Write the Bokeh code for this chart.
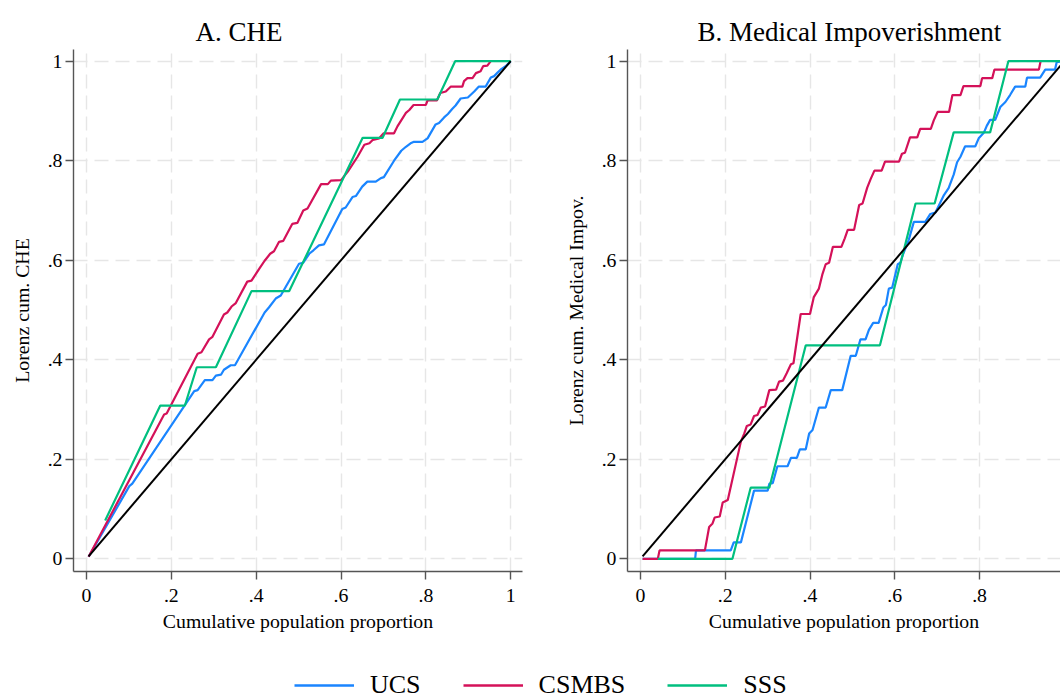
from bokeh.plotting import figure
from bokeh.models import FixedTicker, Range1d, Title, Legend, LegendItem
from bokeh.layouts import column, row
from bokeh.embed import file_html
from bokeh.resources import INLINE

# ---------------- data ----------------
TICKS = [0, 0.2, 0.4, 0.6, 0.8, 1]
TICK_LABELS = ["0", ".2", ".4", ".6", ".8", "1"]
SERIES = ["UCS", "CSMBS", "SSS"]

EQ_X = [0.005, 1.0]
EQ_Y = [0.005, 1.0]

# Panel A: CHE
ucs_a_x = [0.005, 0.101, 0.108, 0.232, 0.254, 0.262, 0.279, 0.297, 0.305, 0.317, 0.324, 0.340, 0.350,
           0.420, 0.430, 0.446, 0.458, 0.501, 0.511, 0.525, 0.535, 0.548, 0.560, 0.603, 0.611, 0.627,
           0.635, 0.650, 0.662, 0.682, 0.694, 0.701, 0.725, 0.742, 0.753, 0.764, 0.772, 0.792, 0.804,
           0.823, 0.831, 0.843, 0.852, 0.862, 0.870, 0.882, 0.899, 0.914, 0.925, 0.941, 0.953, 0.961,
           0.969, 0.976, 0.988, 1.000]
ucs_a_y = [0.004, 0.146, 0.151, 0.309, 0.337, 0.339, 0.359, 0.359, 0.368, 0.370, 0.380, 0.389, 0.389,
           0.495, 0.505, 0.523, 0.529, 0.593, 0.595, 0.613, 0.620, 0.630, 0.632, 0.703, 0.706, 0.727,
           0.729, 0.748, 0.758, 0.758, 0.765, 0.767, 0.800, 0.820, 0.828, 0.835, 0.838, 0.838, 0.845,
           0.873, 0.876, 0.887, 0.894, 0.904, 0.911, 0.925, 0.927, 0.939, 0.949, 0.949, 0.967, 0.970,
           0.977, 0.983, 0.990, 1.000]

csmbs_a_x = [0.005, 0.183, 0.189, 0.262, 0.271, 0.289, 0.297, 0.324, 0.332, 0.342, 0.352, 0.379, 0.389,
             0.409, 0.420, 0.433, 0.442, 0.454, 0.464, 0.485, 0.497, 0.511, 0.521, 0.553, 0.569, 0.576,
             0.600, 0.616, 0.639, 0.655, 0.667, 0.675, 0.690, 0.700, 0.725, 0.733, 0.753, 0.761, 0.771,
             0.800, 0.804, 0.826, 0.834, 0.847, 0.859, 0.886, 0.890, 0.898, 0.910, 0.918, 0.929, 0.935,
             0.945, 0.953]
csmbs_a_y = [0.004, 0.290, 0.292, 0.412, 0.415, 0.441, 0.446, 0.491, 0.495, 0.507, 0.514, 0.557, 0.559,
             0.585, 0.599, 0.613, 0.618, 0.637, 0.639, 0.673, 0.675, 0.700, 0.704, 0.753, 0.753, 0.760,
             0.761, 0.778, 0.808, 0.832, 0.835, 0.842, 0.845, 0.855, 0.855, 0.869, 0.896, 0.902, 0.912,
             0.912, 0.921, 0.921, 0.936, 0.939, 0.949, 0.949, 0.960, 0.966, 0.966, 0.976, 0.980, 0.990,
             0.991, 1.000]

sss_a_x = [0.044, 0.174, 0.232, 0.260, 0.305, 0.389, 0.478, 0.651, 0.698, 0.739, 0.827, 0.869, 1.000]
sss_a_y = [0.077, 0.308, 0.308, 0.385, 0.385, 0.538, 0.538, 0.846, 0.846, 0.923, 0.923, 1.000, 1.000]

# Panel B: Medical impoverishment
ucs_b_x = [0.005, 0.129, 0.131, 0.213, 0.220, 0.237, 0.268, 0.300, 0.304, 0.312, 0.323, 0.347, 0.355,
           0.369, 0.376, 0.390, 0.398, 0.406, 0.421, 0.437, 0.449, 0.476, 0.496, 0.508, 0.519, 0.531,
           0.539, 0.549, 0.562, 0.573, 0.579, 0.586, 0.594, 0.607, 0.613, 0.620, 0.633, 0.645, 0.672,
           0.684, 0.696, 0.708, 0.716, 0.727, 0.739, 0.747, 0.755, 0.766, 0.790, 0.798, 0.810, 0.817,
           0.825, 0.837, 0.849, 0.861, 0.872, 0.884, 0.908, 0.912, 0.943, 0.955, 0.978, 0.982, 1.000]
ucs_b_y = [0.000, 0.000, 0.017, 0.017, 0.033, 0.033, 0.137, 0.137, 0.151, 0.152, 0.186, 0.186, 0.203,
           0.203, 0.220, 0.220, 0.252, 0.259, 0.304, 0.304, 0.339, 0.339, 0.408, 0.408, 0.441, 0.441,
           0.460, 0.474, 0.474, 0.505, 0.510, 0.543, 0.545, 0.592, 0.595, 0.613, 0.641, 0.677, 0.677,
           0.693, 0.696, 0.717, 0.731, 0.745, 0.772, 0.797, 0.808, 0.829, 0.829, 0.845, 0.856, 0.870,
           0.882, 0.882, 0.908, 0.918, 0.932, 0.949, 0.949, 0.967, 0.967, 0.983, 0.983, 0.998, 1.000]

csmbs_b_x = [0.005, 0.041, 0.045, 0.152, 0.162, 0.170, 0.175, 0.187, 0.194, 0.206, 0.237, 0.245, 0.251,
             0.260, 0.268, 0.276, 0.284, 0.294, 0.304, 0.320, 0.327, 0.336, 0.345, 0.355, 0.361, 0.378,
             0.400, 0.409, 0.421, 0.429, 0.437, 0.445, 0.454, 0.474, 0.482, 0.489, 0.504, 0.516, 0.524,
             0.535, 0.543, 0.552, 0.569, 0.577, 0.610, 0.617, 0.624, 0.636, 0.653, 0.660, 0.685, 0.692,
             0.701, 0.728, 0.736, 0.755, 0.762, 0.802, 0.806, 0.830, 0.835, 0.940, 0.944]
csmbs_b_y = [0.000, 0.000, 0.017, 0.017, 0.064, 0.071, 0.083, 0.085, 0.113, 0.118, 0.236, 0.252, 0.267,
             0.270, 0.287, 0.289, 0.304, 0.306, 0.339, 0.340, 0.356, 0.358, 0.373, 0.391, 0.393, 0.492,
             0.492, 0.526, 0.543, 0.571, 0.592, 0.595, 0.627, 0.627, 0.644, 0.661, 0.661, 0.711, 0.714,
             0.746, 0.763, 0.780, 0.780, 0.798, 0.798, 0.814, 0.816, 0.847, 0.847, 0.864, 0.864, 0.881,
             0.898, 0.898, 0.932, 0.932, 0.950, 0.950, 0.966, 0.966, 0.983, 0.983, 1.000]

sss_b_x = [0.041, 0.217, 0.260, 0.304, 0.390, 0.565, 0.649, 0.694, 0.739, 0.825, 0.868, 1.000]
sss_b_y = [0.000, 0.000, 0.143, 0.143, 0.429, 0.429, 0.714, 0.714, 0.857, 0.857, 1.000, 1.000]

# ---------------- style ----------------
FONT = "Liberation Serif"
COLORS = {"UCS": "#1a85ff", "CSMBS": "#d41159", "SSS": "#00bf7f"}
AXIS_COLOR = "#555555"
GRID_COLOR = "#e6e6e6"


def make_panel(title, ylabel, data, x_end, min_left, min_right, frame_w, title_offset):
    p = figure(frame_width=frame_w, frame_height=522,
               min_border_left=min_left, min_border_right=min_right,
               min_border_top=49, min_border_bottom=89,
               x_range=Range1d(-0.0306, x_end), y_range=Range1d(-0.0255, 1.0235),
               output_backend="svg", toolbar_location=None)
    p.outline_line_color = None
    p.background_fill_color = "white"
    p.border_fill_color = "white"

    p.add_layout(Title(text=title, align="left", offset=title_offset,
                       text_font=FONT, text_font_size="27px", text_font_style="normal",
                       text_color="black", standoff=6), "above")

    for ax in (p.xaxis[0], p.yaxis[0]):
        ax.ticker = FixedTicker(ticks=TICKS)
        ax.major_label_overrides = {t: l for t, l in zip(TICKS, TICK_LABELS)}
        ax.minor_tick_line_color = None
        ax.major_tick_in = 0
        ax.major_tick_out = 8
        ax.axis_line_color = AXIS_COLOR
        ax.axis_line_width = 1.4
        ax.major_tick_line_color = AXIS_COLOR
        ax.major_tick_line_width = 1.4
        ax.major_label_text_font = FONT
        ax.major_label_text_font_size = "19.8px"
        ax.major_label_text_color = "black"
        ax.axis_label_text_font = FONT
        ax.axis_label_text_font_size = "19.8px"
        ax.axis_label_text_font_style = "normal"
        ax.axis_label_text_color = "black"

    p.xaxis.axis_label = "Cumulative population proportion"
    p.yaxis.axis_label = ylabel
    p.xaxis.major_label_standoff = 9
    p.xaxis.axis_label_standoff = 5
    p.yaxis.major_label_standoff = 3
    p.yaxis.axis_label_standoff = 12
    p.yaxis.major_label_orientation = "horizontal"

    for g in (p.xgrid[0], p.ygrid[0]):
        g.ticker = FixedTicker(ticks=TICKS)
        g.grid_line_color = GRID_COLOR
        g.grid_line_width = 1.4
        g.grid_line_dash = "14 7"

    for name in SERIES:
        xs, ys = data[name]
        p.line(xs, ys, line_color=COLORS[name], line_width=2.2)
    p.line(EQ_X, EQ_Y, line_color="black", line_width=2.0)
    return p


pA = make_panel("A. CHE", "Lorenz cum. CHE",
                {"UCS": (ucs_a_x, ucs_a_y), "CSMBS": (csmbs_a_x, csmbs_a_y), "SSS": (sss_a_x, sss_a_y)},
                x_end=1.0278, min_left=73, min_right=18, frame_w=449, title_offset=122)
pB = make_panel("B. Medical Impoverishment", "Lorenz cum. Medical Impov.",
                {"UCS": (ucs_b_x, ucs_b_y), "CSMBS": (csmbs_b_x, csmbs_b_y), "SSS": (sss_b_x, sss_b_y)},
                x_end=0.991, min_left=87, min_right=0, frame_w=433, title_offset=70)

# legend strip
pL = figure(width=1060, height=40, min_border=0, toolbar_location=None, output_backend="svg",
            x_range=Range1d(0, 1), y_range=Range1d(0, 1))
pL.axis.visible = False
pL.grid.visible = False
pL.outline_line_color = None
items = []
for name in SERIES:
    r = pL.line(x=[-5, -4], y=[-5, -4], line_color=COLORS[name], line_width=2.5)
    items.append(LegendItem(label=name, renderers=[r]))
leg = Legend(items=items, orientation="horizontal", location=(294, 0),
             glyph_width=60, glyph_height=20, label_standoff=16, spacing=42,
             padding=0, margin=0, border_line_color=None, background_fill_alpha=0,
             label_text_font=FONT, label_text_font_size="26px", label_text_color="black")
pL.add_layout(leg, "center")

layout = column(row(pA, pB, spacing=0), pL, spacing=0)
open("out.html", "w").write(file_html(layout, INLINE))
